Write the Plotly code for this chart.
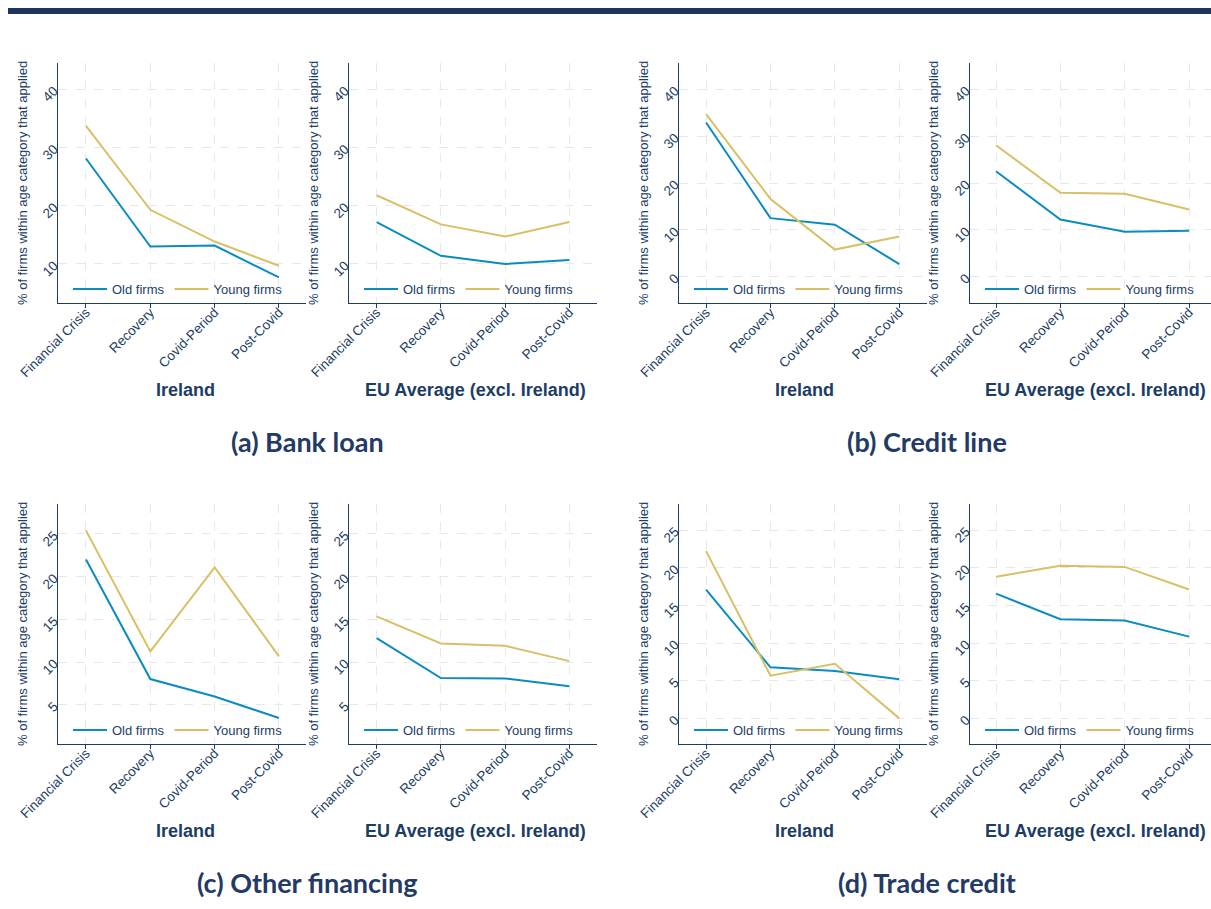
import plotly.graph_objects as go

# Periods on the x axis
periods = ["Financial Crisis", "Recovery", "Covid-Period", "Post-Covid"]

# Share of firms (%) within each age category that applied, by instrument
bank_loan_ireland_old = [28.1, 13.0, 13.15, 7.7]
bank_loan_ireland_young = [33.7, 19.3, 13.85, 9.7]
bank_loan_eu_old = [17.2, 11.4, 10.0, 10.7]
bank_loan_eu_young = [21.8, 16.8, 14.7, 17.2]

credit_line_ireland_old = [32.9, 12.5, 11.1, 2.7]
credit_line_ireland_young = [34.7, 16.6, 5.8, 8.6]
credit_line_eu_old = [22.5, 12.2, 9.6, 9.8]
credit_line_eu_young = [28.05, 17.9, 17.7, 14.35]

other_fin_ireland_old = [22.0, 8.0, 5.97, 3.44]
other_fin_ireland_young = [25.4, 11.24, 21.08, 10.66]
other_fin_eu_old = [12.8, 8.13, 8.08, 7.15]
other_fin_eu_young = [15.34, 12.18, 11.9, 10.1]

trade_credit_ireland_old = [17.1, 6.77, 6.3, 5.2]
trade_credit_ireland_young = [22.2, 5.66, 7.25, 0.0]
trade_credit_eu_old = [16.55, 13.15, 13.0, 10.85]
trade_credit_eu_young = [18.8, 20.27, 20.1, 17.1]

series_names = ["Old firms", "Young firms"]
region_titles = ["Ireland", "EU Average (excl. Ireland)"]
panel_captions = ["(a) Bank loan", "(b) Credit line", "(c) Other financing", "(d) Trade credit"]
y_title = "% of firms within age category that applied"

y_ticks = [
    [10, 20, 30, 40],
    [0, 10, 20, 30, 40],
    [5, 10, 15, 20, 25],
    [0, 5, 10, 15, 20, 25],
]
y_ranges = [[3.3, 44.5], [-5.6, 45.6], [0.4, 28.5], [-3.4, 28.45]]

panels = [
    [(bank_loan_ireland_old, bank_loan_ireland_young), (bank_loan_eu_old, bank_loan_eu_young)],
    [(credit_line_ireland_old, credit_line_ireland_young), (credit_line_eu_old, credit_line_eu_young)],
    [(other_fin_ireland_old, other_fin_ireland_young), (other_fin_eu_old, other_fin_eu_young)],
    [(trade_credit_ireland_old, trade_credit_ireland_young), (trade_credit_eu_old, trade_credit_eu_young)],
]

W, H = 1211, 909
BLUE = "#0b8cc1"
GOLD = "#d8c067"
NAVY = "#1b3d66"
CAPTION = "#243a66"
GRID = "#e8e8e8"
FONT = "Liberation Sans, Arial, sans-serif"

# Pixel layout of the sub-plots (left, right) and (top, bottom)
col_px = [(58, 306), (349, 597), (679, 927), (970, 1211)]
row_px = [(63, 303), (504, 744)]
x_ranges = [[-0.435, 3.42], [-0.43, 3.43], [-0.42, 3.43], [-0.404, 3.34]]
title_x_px = [185, 475, 805, 1095]
ytitle_x_px = [22, 313, 643, 933]


def px_x(v):
    return v / W


def px_y(v):
    return 1 - v / H


fig = go.Figure()
layout = {}
annotations = []

n = 0
for p, pair in enumerate(panels):
    row = p // 2
    col_base = (p % 2) * 2
    top, bottom = row_px[row]
    for r, (old, young) in enumerate(pair):
        col = col_base + r
        n += 1
        sfx = "" if n == 1 else str(n)
        left, right = col_px[col]
        leg = "legend" if n == 1 else f"legend{n}"

        for name, vals, color in ((series_names[0], old, BLUE), (series_names[1], young, GOLD)):
            fig.add_trace(go.Scatter(
                x=periods, y=vals, name=name, mode="lines",
                line=dict(color=color, width=2),
                xaxis=f"x{sfx}", yaxis=f"y{sfx}", legend=leg,
                showlegend=True,
            ))

        layout[f"xaxis{sfx}"] = dict(
            domain=[px_x(left), px_x(right)], anchor=f"y{sfx}",
            type="category", range=x_ranges[col], automargin=False,
            showline=True, linecolor=NAVY, linewidth=1.3,
            ticks="outside", ticklen=4, tickcolor=NAVY,
            ticklabelstandoff=-9,
            tickangle=-45, tickfont=dict(family=FONT, size=13.5, color=NAVY),
            showgrid=True, gridcolor=GRID, griddash="dash", gridwidth=1,
            zeroline=False, fixedrange=True,
        )
        layout[f"yaxis{sfx}"] = dict(
            domain=[px_y(bottom), px_y(top)], anchor=f"x{sfx}",
            range=y_ranges[p], tickvals=y_ticks[p], automargin=False,
            showline=True, linecolor=NAVY, linewidth=1.3,
            ticks="", tickangle=-45,
            tickfont=dict(family=FONT, size=13.5, color=NAVY),
            showgrid=True, gridcolor=GRID, griddash="dash", gridwidth=1,
            zeroline=False, fixedrange=True,
        )
        layout[leg] = dict(
            orientation="h", x=px_x(left + 10), xanchor="left",
            y=px_y(bottom - 14), yanchor="middle",
            bgcolor="rgba(0,0,0,0)", borderwidth=0,
            font=dict(family=FONT, size=13, color=NAVY),
            itemwidth=34, tracegroupgap=0,
        )

        annotations.append(dict(
            text=f"<b>{region_titles[r]}</b>", x=px_x(title_x_px[col]),
            y=px_y(bottom + 87), xref="paper", yref="paper",
            xanchor="center", yanchor="middle", showarrow=False,
            font=dict(family=FONT, size=18, color=NAVY),
        ))
        annotations.append(dict(
            text=y_title, textangle=-90, x=px_x(ytitle_x_px[col]),
            y=px_y((top + bottom) / 2), xref="paper", yref="paper",
            xanchor="center", yanchor="middle", showarrow=False,
            font=dict(family=FONT, size=13, color=NAVY),
        ))

    cap_x = 307 if p % 2 == 0 else 927
    cap_y = 441 if row == 0 else 882
    annotations.append(dict(
        text=f"<b>{panel_captions[p]}</b>", x=px_x(cap_x), y=px_y(cap_y),
        xref="paper", yref="paper", xanchor="center", yanchor="middle",
        showarrow=False, font=dict(family="Lato, Carlito, sans-serif", size=27, color=CAPTION),
    ))

fig.update_layout(
    width=W, height=H,
    margin=dict(l=0, r=0, t=0, b=0, autoexpand=False),
    paper_bgcolor="white", plot_bgcolor="white",
    annotations=annotations,
    shapes=[dict(type="rect", xref="paper", yref="paper",
                 x0=px_x(8), x1=1, y0=px_y(14), y1=px_y(8),
                 fillcolor="#1f3560", line=dict(width=0))],
    **layout,
)

fig.write_html("out.html")
